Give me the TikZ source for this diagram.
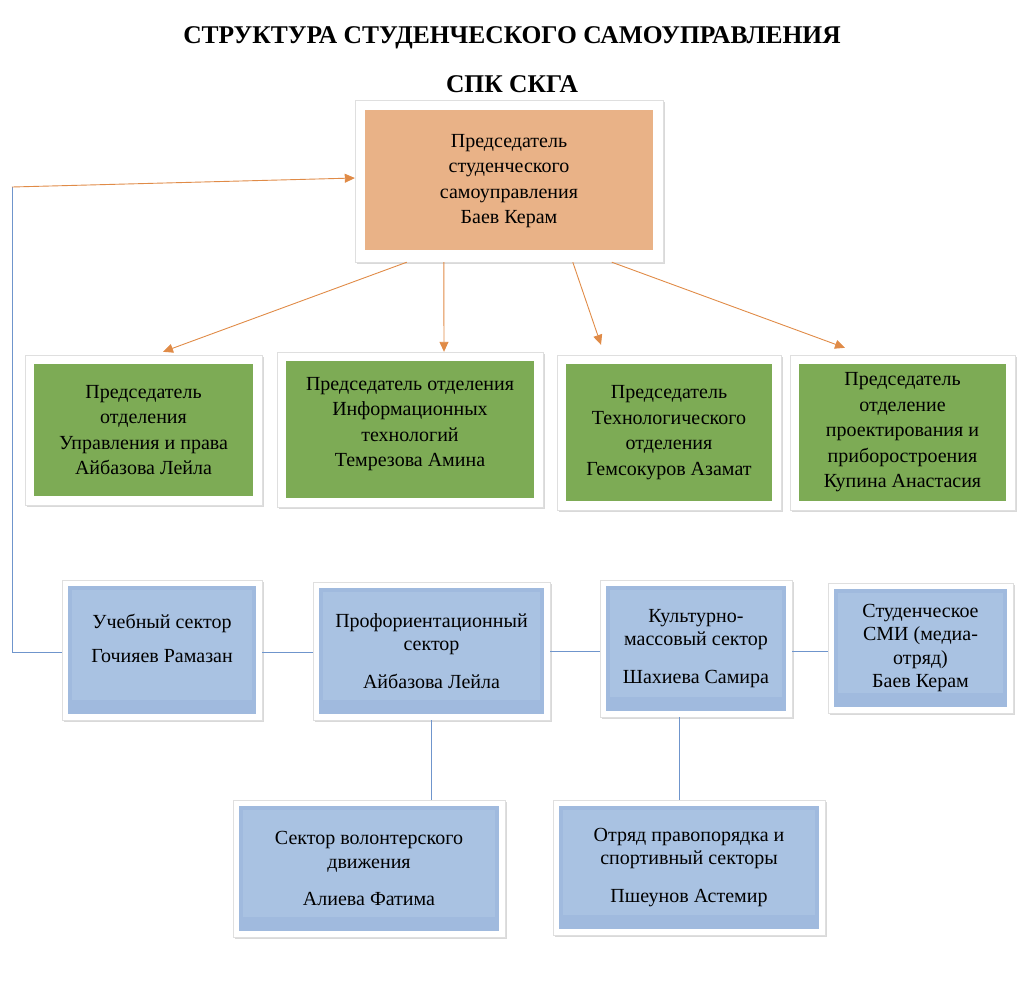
\documentclass[tikz,border=0pt]{standalone}
\usepackage{fontspec}
\setmainfont{Liberation Serif}
\usepackage{tikz}
\usetikzlibrary{arrows.meta,shadows}

\definecolor{chairfill}{HTML}{E9B287}
\definecolor{deptfill}{HTML}{7DAB55}
\definecolor{secfill}{HTML}{A0BADE}
\definecolor{secpanel}{HTML}{A9C2E2}
\definecolor{arroworange}{HTML}{E08B47}
\definecolor{lineblue}{HTML}{6F95CC}

% coloured panel inside the white frame of a box
\newcommand{\panel}[3]{\fill[#1] ([shift={(#2,-#2)}]path picture bounding box.north west) rectangle ([shift={(-#2,#3)}]path picture bounding box.south east);}

\begin{document}
\begin{tikzpicture}[x=1pt, y=-1pt,
    frame/.style={draw=gray!25, fill=white, align=center, inner sep=0pt,
        drop shadow={shadow xshift=1.5pt, shadow yshift=-1.5pt, opacity=0.3},
        font=\fontsize{20}{25.5}\selectfont},
    chair/.style={frame, path picture={\panel{chairfill}{10pt}{12pt}}},
    dept/.style={frame, path picture={\panel{deptfill}{9pt}{9pt}}},
    sector/.style={frame, font=\fontsize{20}{23.5}\selectfont,
        path picture={\panel{secfill}{6pt}{6pt}\panel{secpanel}{10pt}{20pt}}},
    down/.style={draw=arroworange, line width=0.9pt, -{Triangle[length=10pt,width=9pt]}},
    link/.style={draw=lineblue, line width=0.7pt}]
\useasboundingbox (0,0) rectangle (1024,1005);

                % Title
                \node[font=\fontsize{25.5}{30}\selectfont\bfseries] (t1) at (512,38) {СТРУКТУРА СТУДЕНЧЕСКОГО САМОУПРАВЛЕНИЯ};
                \node[font=\fontsize{25.5}{30}\selectfont\bfseries] (t2) at (512,84) {СПК СКГА};

                % Nodes
                \node[chair, minimum width=308pt, minimum height=162pt] (0) at (509,181) {Председатель\\студенческого\\самоуправления\\Баев Керам};
                \node[dept, minimum width=237pt, minimum height=150pt] (1) at (143.5,430) {Председатель\\отделения\\Управления и права\\Айбазова Лейла};
                \node[dept, minimum width=266pt, minimum height=155pt] (2) at (410,429.5) {Председатель отделения\\Информационных\\технологий\\Темрезова Амина\\[-10pt]~};
                \node[dept, minimum width=224pt, minimum height=155pt] (3) at (669,432.5) {Председатель\\Технологического\\отделения\\Гемсокуров Азамат};
                \node[dept, minimum width=225pt, minimum height=155pt] (4) at (902.5,432.5) {Председатель\\отделение\\проектирования и\\приборостроения\\Купина Анастасия};
                \node[sector, minimum width=200pt, minimum height=140pt] (5) at (162,650) {Учебный сектор\\[10pt]Гочияев Рамазан\\~};
                \node[sector, minimum width=237pt, minimum height=138pt] (6) at (431.5,651) {Профориентационный\\сектор\\[14pt]Айбазова Лейла};
                \node[sector, minimum width=192pt, minimum height=137pt] (7) at (696,648.5) {Культурно-\\массовый сектор\\[14pt]Шахиева Самира};
                \node[sector, minimum width=185pt, minimum height=130pt] (8) at (920.5,648) {Студенческое\\СМИ (медиа-\\отряд)\\Баев Керам};
                \node[sector, minimum width=272pt, minimum height=137pt] (9) at (369,868.5) {Сектор волонтерского\\движения\\[14pt]Алиева Фатима};
                \node[sector, minimum width=272pt, minimum height=135pt] (10) at (689,867.5) {Отряд правопорядка и\\спортивный секторы\\[14pt]Пшеунов Астемир};
                \coordinate (c) at (12,187);

                % Edges
                \draw[down] ([xshift=52pt]0.south west)--([xshift=19.5pt, yshift=3pt]1.north);
                \draw[down] ([xshift=89pt]0.south west)--([xshift=34pt]2.north);
                \draw[down] ([xshift=218pt]0.south west)--([xshift=-68pt, yshift=10pt]3.north);
                \draw[down] ([xshift=257pt]0.south west)--([xshift=-57.5pt, yshift=7pt]4.north);
                \draw[link] ([yshift=-2pt]5.west) -| (c);
                \draw[down] (c)--([yshift=3pt]0.west);
                \draw[link] ([yshift=-2pt]5.east)--([yshift=-2pt]5.east -| 6.west);
                \draw[link] (6.east)--(6.east -| 7.west);
                \draw[link] ([yshift=-3pt]7.east)--([yshift=-3pt]7.east -| 8.west);
                \draw[link] (6.south)--(6.south |- 9.north);
                \draw[link] ([xshift=-17pt]7.south)--([xshift=-17pt]7.south |- 10.north);
            \end{tikzpicture}
\end{document}
